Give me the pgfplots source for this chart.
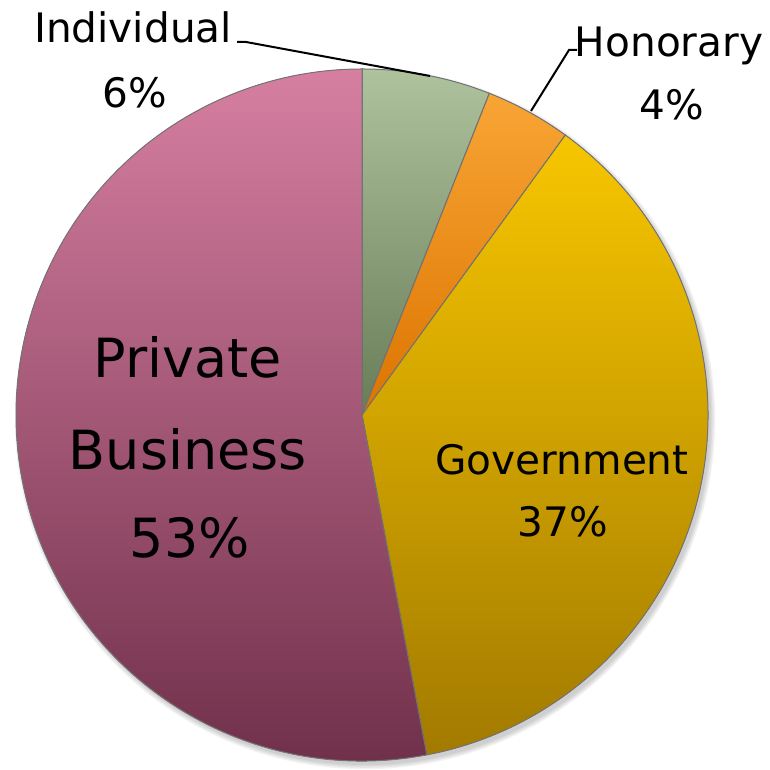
\documentclass[border=0pt]{standalone}
\usepackage{fontspec}
\setmainfont{DejaVu Sans}
\usepackage{pgfplots}
\usepackage{pgfplotstable}
\pgfplotsset{compat=1.18}

\definecolor{pinkT}{HTML}{D67FA1}
\definecolor{pinkB}{HTML}{6C2D47}
\definecolor{goldT}{HTML}{F7C600}
\definecolor{goldB}{HTML}{A27A00}
\definecolor{orT}{HTML}{F8A535}
\definecolor{orB}{HTML}{DC7400}
\definecolor{grT}{HTML}{AEC29E}
\definecolor{grB}{HTML}{687C58}

\pgfplotstableread{
label value
Individual 6
Honorary 4
Government 37
Private 53
}\piedata

\begin{document}
\begin{tikzpicture}
\pgfplotstablegetelem{0}{value}\of\piedata \pgfmathsetmacro\vA{\pgfplotsretval}
\pgfplotstablegetelem{1}{value}\of\piedata \pgfmathsetmacro\vB{\pgfplotsretval}
\pgfplotstablegetelem{2}{value}\of\piedata \pgfmathsetmacro\vC{\pgfplotsretval}
\pgfplotstablegetelem{3}{value}\of\piedata \pgfmathsetmacro\vD{\pgfplotsretval}
\pgfmathsetmacro\aA{90-3.6*\vA}
\pgfmathsetmacro\aB{\aA-3.6*\vB}
\pgfmathsetmacro\aC{\aB-3.6*\vC}
\pgfmathsetmacro\aD{\aC-3.6*\vD}
\def\R{173pt}
\begin{axis}[
  x=0.5pt, y=0.5pt,
  xmin=0, xmax=770, ymin=0, ymax=770,
  hide axis, clip=false,
]
\coordinate (ll) at (axis cs:0,0);
\coordinate (ur) at (axis cs:770,770);
% soft shadow
\pgfplotsinvokeforeach{0,1,2,3}{
  \fill[black, opacity=0.05] (axis cs:365,351) circle[radius=173pt+#1*0.7pt];
}
% slices
\fill[top color=grT, bottom color=grB, draw=black!55, line width=0.5pt]
  (axis cs:362,355) -- ++(90:\R) arc[start angle=90, end angle=\aA, radius=\R] -- cycle;
\fill[top color=orT, bottom color=orB, draw=black!55, line width=0.5pt]
  (axis cs:362,355) -- ++(\aA:\R) arc[start angle=\aA, end angle=\aB, radius=\R] -- cycle;
\fill[top color=goldT, bottom color=goldB, draw=black!55, line width=0.5pt]
  (axis cs:362,355) -- ++(\aB:\R) arc[start angle=\aB, end angle=\aC, radius=\R] -- cycle;
\fill[top color=pinkT, bottom color=pinkB, draw=black!55, line width=0.5pt]
  (axis cs:362,355) -- ++(\aC:\R) arc[start angle=\aC, end angle=\aD, radius=\R] -- cycle;
% leader lines
\draw[black, line width=1pt] (axis cs:237,728) -- (axis cs:246,728) -- (axis cs:430,694);
\draw[black, line width=1pt] (axis cs:577,720) -- (axis cs:569,720) -- (axis cs:531,659);
% labels
\node[anchor=base, font=\fontsize{20.3}{24}\selectfont] at (axis cs:133,727) {Individual};
\node[anchor=base, font=\fontsize{20.3}{24}\selectfont] at (axis cs:135,662) {6\%};
\node[anchor=base, font=\fontsize{20.3}{24}\selectfont] at (axis cs:669,713) {Honorary};
\node[anchor=base, font=\fontsize{20.3}{24}\selectfont] at (axis cs:672,650) {4\%};
\node[anchor=base, font=\fontsize{27}{32}\selectfont] at (axis cs:188,392) {Private};
\node[anchor=base, font=\fontsize{27}{32}\selectfont] at (axis cs:188,300) {Business};
\node[anchor=base, font=\fontsize{27}{32}\selectfont] at (axis cs:190,212) {53\%};
\node[anchor=base, font=\fontsize{20.3}{24}\selectfont] at (axis cs:562,295) {Government};
\node[anchor=base, font=\fontsize{20.3}{24}\selectfont] at (axis cs:563,233) {37\%};
\end{axis}
\pgfresetboundingbox
\path (ll) rectangle (ur);
\end{tikzpicture}
\end{document}
